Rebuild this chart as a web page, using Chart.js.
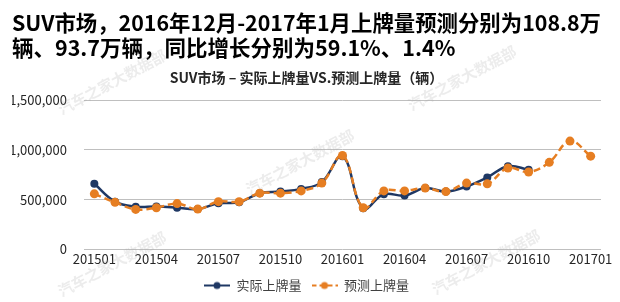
<!DOCTYPE html>
<html>
<head>
<meta charset="utf-8">
<script src="https://cdn.jsdelivr.net/npm/chart.js@4.4.1/dist/chart.umd.min.js"></script>
<style>
  html, body { margin: 0; padding: 0; background: #fff; }
  #wrap { width: 620px; height: 302px; }
</style>
</head>
<body>
<div id="wrap"><canvas id="suv_chart"></canvas></div>
<script>
var months = ['201501','201502','201503','201504','201505','201506','201507','201508','201509','201510','201511','201512',
              '201601','201602','201603','201604','201605','201606','201607','201608','201609','201610','201611','201612','201701'];
var actualValues = [659000, 480000, 429000, 430000, 419000, 405000, 463000, 473000, 565000, 581000, 608000, 676000,
                    936000, 413000, 555000, 541000, 616000, 581000, 632000, 723000, 835000, 801000, null, null, null];
var forecastValues = [558000, 473000, 402000, 419000, 460000, 405000, 480000, 480000, 565000, 565000, 588000, 666000,
                      943000, 419000, 588000, 588000, 616000, 581000, 666000, 659000, 818000, 778000, 875000, 1088000, 937000];
var yTicks = [0, 500000, 1000000, 1500000];
var seriesNames = ['实际上牌量', '预测上牌量'];
var titleLines = ['SUV市场，2016年12月-2017年1月上牌量预测分别为108.8万', '辆、93.7万辆，同比增长分别为59.1%、1.4%'];
var subtitleText = 'SUV市场 – 实际上牌量VS.预测上牌量（辆）';
var watermark = '汽车之家大数据部';

var NAVY = '#1f3864';
var ORANGE = '#e67e22';
var FONT = "'Noto Sans CJK SC', 'Noto Sans', sans-serif";

// little line+dot swatches for the legend
function swatch(color, dashed) {
    var c = document.createElement('canvas');
    c.width = 26; c.height = 10;
    var g = c.getContext('2d');
    g.strokeStyle = color;
    g.lineWidth = 2;
    if (dashed) g.setLineDash([5, 3]);
    g.beginPath(); g.moveTo(0, 5); g.lineTo(26, 5); g.stroke();
    g.setLineDash([]);
    g.fillStyle = color;
    g.beginPath(); g.arc(13, 5, 3.5, 0, Math.PI * 2); g.fill();
    return c;
}

var watermarkPlugin = {
    id: 'watermark',
    afterDraw: function(chart) {
        var ctx = chart.ctx;
        var spots = [[112, 82], [300, 162], [462, 78], [112, 264], [486, 262]];
        ctx.save();
        ctx.font = 'bold 15px ' + FONT;
        ctx.fillStyle = 'rgba(170,170,170,0.22)';
        ctx.textAlign = 'center';
        ctx.textBaseline = 'middle';
        spots.forEach(function(p) {
            ctx.save();
            ctx.translate(p[0], p[1]);
            ctx.rotate(-28 * Math.PI / 180);
            ctx.fillText(watermark, 0, 0);
            ctx.restore();
        });
        ctx.restore();
    }
};

var ctx = document.getElementById('suv_chart');
var chart = new Chart(ctx, {
    type: 'line',
    data: {
        labels: months,
        datasets: [{
            label: seriesNames[0],
            data: actualValues,
            borderColor: NAVY,
            backgroundColor: NAVY,
            borderWidth: 2.5,
            pointRadius: 4,
            pointBorderWidth: 0,
            tension: 0.4,
            order: 1
        }, {
            label: seriesNames[1],
            data: forecastValues,
            borderColor: ORANGE,
            backgroundColor: ORANGE,
            borderWidth: 2.5,
            borderDash: [7, 4],
            pointRadius: 4.5,
            pointBorderWidth: 0,
            tension: 0.4,
            order: 0
        }]
    },
    options: {
        responsive: true,
        maintainAspectRatio: false,
        animation: false,
        layout: { padding: { left: 12, right: 19, top: 0, bottom: 0 } },
        plugins: {
            title: {
                display: true,
                text: titleLines,
                align: 'start',
                color: '#000',
                font: { family: FONT, size: 21.5, weight: 'bold', lineHeight: 1.17 },
                padding: { top: 10, bottom: 9 }
            },
            subtitle: {
                display: true,
                text: subtitleText,
                color: '#262626',
                font: { family: FONT, size: 14, weight: 'bold' },
                padding: { top: 0, bottom: 14 }
            },
            legend: {
                position: 'bottom',
                labels: {
                    usePointStyle: true,
                    pointStyleWidth: 26,
                    boxHeight: 10,
                    color: '#404040',
                    font: { family: FONT, size: 13 },
                    padding: 10,
                    generateLabels: function(chart) {
                        return chart.data.datasets.map(function(ds, i) {
                            return {
                                text: ds.label,
                                pointStyle: swatch(ds.borderColor, i === 1),
                                fillStyle: ds.borderColor,
                                strokeStyle: ds.borderColor,
                                lineWidth: 0,
                                fontColor: '#404040',
                                datasetIndex: i
                            };
                        });
                    }
                }
            },
            tooltip: { enabled: false }
        },
        scales: {
            x: {
                offset: true,
                grid: { display: false, drawTicks: false },
                border: { display: false },
                ticks: {
                    autoSkip: false,
                    maxRotation: 0,
                    color: '#262626',
                    font: { family: FONT, size: 13 },
                    padding: 2,
                    callback: function(v, i) { return i % 3 === 0 ? months[i] : ''; }
                }
            },
            y: {
                min: 0,
                max: 1500000,
                afterBuildTicks: function(scale) {
                    scale.ticks = yTicks.map(function(v) { return { value: v }; });
                },
                afterFit: function(scale) { scale.width = 72; },
                grid: { color: '#bfbfbf', lineWidth: 1, drawTicks: false },
                border: { display: false },
                ticks: {
                    color: '#262626',
                    font: { family: FONT, size: 13 },
                    padding: 17,
                    callback: function(v) { return v.toLocaleString('en-US'); }
                }
            }
        }
    },
    plugins: [watermarkPlugin]
});
</script>
</body>
</html>
